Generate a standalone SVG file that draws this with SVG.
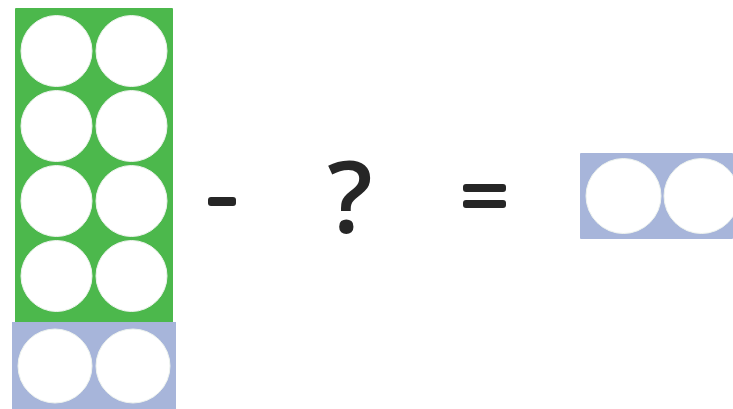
<svg xmlns="http://www.w3.org/2000/svg" width="733" height="409" viewBox="0 0 733 409">
<style>
.g{fill:#4cb84c}
.b{fill:#a7b5da}
.c{fill:#ffffff;stroke:#eef3ee;stroke-width:1}
.t{font-family:"Open Sans","DejaVu Sans",sans-serif;font-weight:600;fill:#262626;text-anchor:middle}
</style>
<rect width="733" height="409" fill="#ffffff"/>
<g id="ten-frame">
<rect class="g" x="15" y="8" width="158" height="316" rx="1"/>
<circle class="c" cx="56.5" cy="51" r="35.5"/><circle class="c" cx="131.5" cy="51" r="35.5"/>
<circle class="c" cx="56.5" cy="126" r="35.5"/><circle class="c" cx="131.5" cy="126" r="35.5"/>
<circle class="c" cx="56.5" cy="201" r="35.5"/><circle class="c" cx="131.5" cy="201" r="35.5"/>
<circle class="c" cx="56.5" cy="276" r="35.5"/><circle class="c" cx="131.5" cy="276" r="35.5"/>
</g>
<g id="two-bottom">
<rect class="b" x="12" y="322" width="164" height="87"/>
<circle class="c" cx="55" cy="366" r="37"/><circle class="c" cx="133" cy="366" r="37"/>
</g>
<g id="two-right">
<rect class="b" x="580" y="153" width="153" height="86" rx="1"/>
<circle class="c" cx="623.5" cy="196" r="37.5"/><circle class="c" cx="701.5" cy="196" r="37.5"/>
</g>
<g id="minus"><rect x="208" y="197" width="28" height="9" rx="3" fill="#262626"/></g>
<g id="question"><text class="t" x="350" y="233" font-size="100">?</text></g>
<g id="equals"><rect x="463" y="184" width="43" height="8" rx="3" fill="#262626"/><rect x="463" y="200" width="43" height="8" rx="3" fill="#262626"/></g>
<g id="connectors"/>
</svg>
